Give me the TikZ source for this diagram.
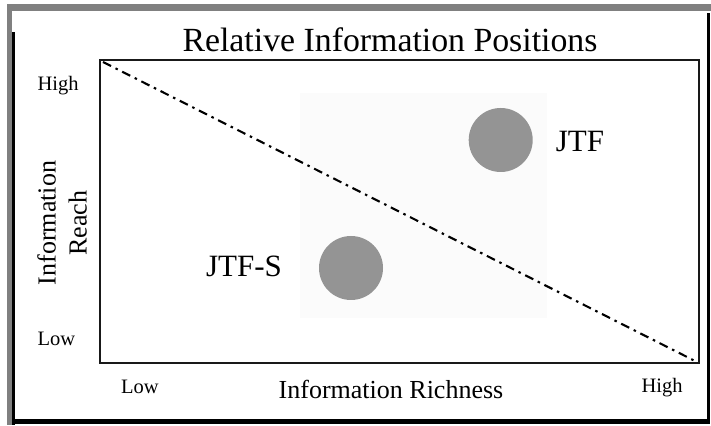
\documentclass[tikz,border=0pt]{standalone}
\usepackage{fontspec}
\setmainfont{Liberation Serif}
\usepackage{tikz}
\pgfdeclarelayer{edgelayer}
\pgfdeclarelayer{nodelayer}
\pgfsetlayers{edgelayer,nodelayer,main}
\tikzstyle{none} = []
\tikzstyle{titletext} = [inner sep=0pt, anchor=base, font=\fontsize{33.8}{36}\selectfont]
\tikzstyle{axistext} = [inner sep=0pt, anchor=base, font=\fontsize{26}{31}\selectfont]
\tikzstyle{ticktext} = [inner sep=0pt, anchor=base, font=\fontsize{20.5}{24}\selectfont]
\tikzstyle{firmtext} = [inner sep=0pt, anchor=base, font=\fontsize{31}{36}\selectfont]
\tikzstyle{blob} = [circle, inner sep=0pt, minimum size=64pt, fill=black!42]
\tikzstyle{frame} = [draw=black!90, line width=2.2pt]
\tikzstyle{divide} = [line width=2.1pt, dash pattern=on 9pt off 5pt on 2.5pt off 5pt]

\begin{document}
\begin{tikzpicture}[x=10pt, y=10pt]
	\useasboundingbox (0, 0) rectangle (71.1, 42.5);
	% scanned window border
	\fill [black!50] (0.7, 41.4) rectangle (71.1, 42.1);
	\fill [black!50] (0.7, 0) rectangle (1.2, 42.1);
	\fill [black] (1.2, 0) rectangle (1.5, 39.3);
	\fill [black] (1.2, 0.1) rectangle (71.0, 0.6);
	\fill [black] (70.7, 0.1) rectangle (71.0, 41.2);
	\begin{pgfonlayer}{nodelayer}
		\node [style=none] (0) at (10, 36.5) {};
		\node [style=none] (1) at (69.9, 6.2) {};
		\node [style=none] (2) at (10.3, 36.3) {};
		\node [style=none] (3) at (69.7, 6.3) {};
		\node [style=none] (4) at (30, 33.2) {};
		\node [style=none] (5) at (54.7, 10.7) {};
		\node [style=titletext] (6) at (39.0, 37.3) {Relative Information Positions};
		\node [style=ticktext] (7) at (5.8, 33.45) {High};
		\node [style=ticktext] (8) at (5.65, 7.9) {Low};
		\node [style=ticktext] (9) at (14.0, 3.1) {Low};
		\node [style=ticktext] (10) at (66.2, 3.2) {High};
		\node [style=axistext] (11) at (39.1, 2.6) {Information Richness};
		\node [style=axistext, anchor=center, rotate=90, align=center] (12) at (6.2, 20.2) {Information\\Reach};
		\node [style=blob] (13) at (50.07, 28.5) {};
		\node [style=blob] (14) at (35.1, 15.7) {};
		\node [style=firmtext] (15) at (58.0, 27.3) {JTF};
		\node [style=firmtext] (16) at (24.4, 14.8) {JTF-S};
	\end{pgfonlayer}
	\begin{pgfonlayer}{edgelayer}
		\fill [black!1.5] (4.center) rectangle (5.center);
		\draw [style=frame] (0.center) rectangle (1.center);
		\draw [style=divide] (2.center) to (3.center);
	\end{pgfonlayer}
\end{tikzpicture}
\end{document}
